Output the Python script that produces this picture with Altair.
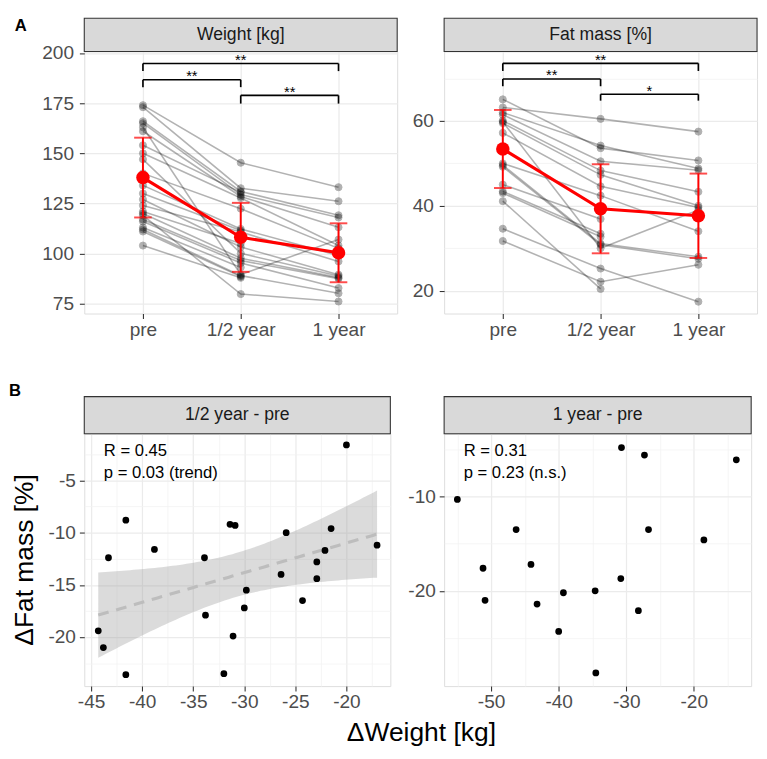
import json
import numpy as np
import pandas as pd
import altair as alt

FONT = "Liberation Sans"
GRID = "#EBEBEB"
GRID_MINOR = "#F2F2F2"
BORDER = "#333333"
STRIP_FILL = "#D9D9D9"
LABEL_COLOR = "#4D4D4D"
RED = "#FF0000"
TICK_FS = 19.5

# ---------------- data: panel A ----------------
time_labels = ["pre", "1/2 year", "1 year"]
time_pos = [1, 2, 3]

weight_pre = [174, 173, 166, 165, 163, 161, 154, 150, 147, 140, 134, 130, 127, 124, 121, 120, 119, 117, 116, 113, 112, 111, 104]
weight_half = [145.3, 132.6, 131.0, 129.4, 89.5, 128.5, 130.5, 127.7, 100.1, 122.4, 112.3, 111.5, 103.3, 110.7, 105.0, 97.7, 79.8, 96.5, 95.3, 93.1, 89.0, 88.5, 87.9]
weight_year = [133.1, 126.1, 119.1, 118.0, 107.0, 113.1, None, 104.0, 88.8, 102.6, 99.0, None, 89.5, 96.1, None, 88.0, 76.1, 87.5, 82.8, None, 80.2, None, None]
weight_mean = [137.9, 108.1, 100.4]
weight_sd = [19.9, 17.2, 14.7]

fat_pre = [65.1, 63.2, 62.0, 61.5, 60.1, 59.8, 59.5, 57.2, 50.0, 49.6, 49.2, 45.0, 43.4, 43.0, 41.1, 34.6, 31.7]
fat_half = [53.6, 60.5, 54.2, 50.5, 48.3, 30.0, 47.3, 44.6, 42.4, 31.1, 30.8, 36.9, 33.4, 32.7, 20.4, 25.2, 22.1]
fat_year = [50.7, 57.5, 48.8, 48.4, 43.3, 39.0, 40.0, 39.6, 34.0, 28.0, 27.5, None, None, None, None, 17.4, 26.1]
fat_mean = [53.4, 39.3, 37.65]
fat_sd = [9.2, 10.5, 9.95]

weight_ticks = [75, 100, 125, 150, 175, 200]
fat_ticks = [20, 40, 60]

weight_br_from = [1, 1, 2]
weight_br_to = [3, 2, 3]
weight_br_bar = [194.8, 186.7, 178.9]
weight_br_leg = [191.0, 183.0, 174.8]
weight_br_label = ["**", "**", "**"]

fat_br_from = [1, 1, 2]
fat_br_to = [3, 2, 3]
fat_br_bar = [73.6, 69.9, 66.3]
fat_br_leg = [71.8, 68.2, 64.8]
fat_br_label = ["**", "**", "*"]

# ---------------- data: panel B ----------------
half_d_weight = [-20.0, -41.6, -31.4, -30.9, -21.5, -25.9, -38.8, -22.1, -43.3, -33.9, -22.9, -26.4,
                 -22.9, -29.8, -24.3, -30.0, -33.8, -44.3, -31.1, -43.8, -41.6, -32.0, -17.0]
half_d_fat = [-1.6, -8.8, -9.2, -9.3, -9.6, -10.0, -11.6, -11.7, -12.4, -12.4, -12.8, -14.0,
              -14.4, -15.5, -16.5, -17.2, -17.9, -19.4, -19.9, -21.0, -23.6, -23.5, -11.2]
year_d_weight = [-30.7, -27.3, -13.7, -55.0, -46.3, -26.7, -18.5, -44.1, -51.2, -30.8, -34.6, -39.3,
                 -50.9, -43.2, -28.2, -40.0, -34.5]
year_d_fat = [-4.8, -5.6, -6.1, -10.3, -13.5, -13.5, -14.6, -17.2, -17.6, -18.7, -20.0, -20.2,
              -21.0, -21.4, -22.1, -24.3, -28.7]

d_weight_half_ticks = [-45, -40, -35, -30, -25, -20]
d_fat_half_ticks = [-20, -15, -10, -5]
d_weight_year_ticks = [-50, -40, -30, -20]
d_fat_year_ticks = [-20, -10]

half_stats = ["R = 0.45", "p = 0.03 (trend)"]
year_stats = ["R = 0.31", "p = 0.23 (n.s.)"]

y_title_b = "ΔFat mass [%]"
x_title_b = "ΔWeight [kg]"

# ---------------- layout ----------------
WA, HA, SA = 320, 268, 34
WB1, WB2, HB, SB = 313, 314, 258, 38


def grid_axis(major, domain, pad=6):
    step = major[1] - major[0]
    cands = [m + step / 2 for m in [major[0] - step] + major]
    minor = [v for v in cands if domain[0] <= v <= domain[1]]
    values = sorted(major + minor)
    q = f"((datum.value - ({major[0]})) / ({step}))"
    is_major = f"abs({q} - round({q})) < 0.001"
    return alt.Axis(
        values=values,
        labelExpr=f"({is_major}) ? ('' + datum.value) : ''",
        title=None,
        grid=True,
        gridColor={"condition": {"test": is_major, "value": GRID}, "value": GRID_MINOR},
        gridWidth={"condition": {"test": is_major, "value": 1.3}, "value": 0.8},
        tickOpacity={"condition": {"test": is_major, "value": 1}, "value": 0},
        domain=False,
        tickColor=BORDER,
        tickSize=5,
        tickWidth=1.1,
        labelColor=LABEL_COLOR,
        labelFontSize=TICK_FS,
        labelFont=FONT,
        labelPadding=pad,
        labelFlush=False,
        labelOverlap=False,
    )


def strip_layers(title, w, sh):
    sdf = pd.DataFrame({"label": [title]})
    rect = alt.Chart(sdf).mark_rect(fill=STRIP_FILL, stroke=BORDER, strokeWidth=1.1).encode(
        x=alt.value(0), x2=alt.value(w), y=alt.value(-sh), y2=alt.value(0))
    txt = alt.Chart(sdf).mark_text(font=FONT, fontSize=18, color="#1A1A1A", baseline="middle").encode(
        text="label:N", x=alt.value(w / 2), y=alt.value(-sh / 2))
    return [rect, txt]


def letter_layer(letter, dx, dy):
    ldf = pd.DataFrame({"label": [letter]})
    return alt.Chart(ldf).mark_text(font=FONT, fontSize=17, fontWeight="bold", color="black",
                                    align="left", baseline="middle").encode(
        text="label:N", x=alt.value(dx), y=alt.value(dy))


def top_panel(title, pre, half, year, mean, sd, ticks, domain, bfrom, bto, bbar, bleg, blab, letter=None):
    rows = []
    for i, vals in enumerate(zip(pre, half, year)):
        for t, v in zip(time_pos, vals):
            if v is not None:
                rows.append({"subject": i, "time": t, "value": v})
    df = pd.DataFrame(rows)
    mdf = pd.DataFrame({"time": time_pos, "mean": mean, "sd": sd})
    mdf["lo"] = mdf["mean"] - mdf["sd"]
    mdf["hi"] = mdf["mean"] + mdf["sd"]

    xscale = alt.Scale(domain=[0.4, 3.6], nice=False, zero=False)
    yscale = alt.Scale(domain=domain, nice=False, zero=False)
    xaxis = alt.Axis(values=time_pos, labelExpr=f"{json.dumps(time_labels)}[datum.value - 1]",
                     title=None, grid=True, gridColor=GRID, gridWidth=1.3, domain=False,
                     tickColor=BORDER, tickSize=5, tickWidth=1.1, labelColor=LABEL_COLOR,
                     labelFontSize=TICK_FS, labelFont=FONT, labelPadding=2, labelFlush=False)
    yaxis = grid_axis(ticks, domain)
    x = alt.X("time:Q", scale=xscale, axis=xaxis)
    y = alt.Y("value:Q", scale=yscale, axis=yaxis)

    base = alt.Chart(df)
    lines = base.mark_line(color="black", opacity=0.3, strokeWidth=1.6).encode(
        x=x, y=y, detail="subject:N")
    pts = base.mark_circle(size=52, color="black", opacity=0.3, stroke="black", strokeWidth=1).encode(x=x, y=y)

    mb = alt.Chart(mdf)
    xm = alt.X("time:Q", scale=xscale)
    err = mb.mark_rule(color=RED, strokeWidth=2).encode(x=xm, y=alt.Y("lo:Q", scale=yscale), y2="hi:Q")
    cap_lo = mb.mark_tick(color=RED, orient="horizontal", size=18, thickness=2).encode(
        x=xm, y=alt.Y("lo:Q", scale=yscale))
    cap_hi = mb.mark_tick(color=RED, orient="horizontal", size=18, thickness=2).encode(
        x=xm, y=alt.Y("hi:Q", scale=yscale))
    mline = mb.mark_line(color=RED, strokeWidth=3.2).encode(x=xm, y=alt.Y("mean:Q", scale=yscale))
    mpts = mb.mark_circle(color=RED, size=190, opacity=1).encode(x=xm, y=alt.Y("mean:Q", scale=yscale))

    seg = []
    for f, t, b, l in zip(bfrom, bto, bbar, bleg):
        seg.append({"x": f, "x2": t, "y": b, "y2": b})
        seg.append({"x": f, "x2": f, "y": b, "y2": l})
        seg.append({"x": t, "x2": t, "y": b, "y2": l})
    sdf = pd.DataFrame(seg)
    br = alt.Chart(sdf).mark_rule(color="black", strokeWidth=1.7).encode(
        x=alt.X("x:Q", scale=xscale), x2="x2:Q", y=alt.Y("y:Q", scale=yscale), y2="y2:Q")
    stars = pd.DataFrame({"x": [(f + t) / 2 for f, t in zip(bfrom, bto)], "y": bbar, "label": blab})
    st = alt.Chart(stars).mark_text(font=FONT, fontSize=15, color="black", baseline="alphabetic", dy=1.5).encode(
        x=alt.X("x:Q", scale=xscale), y=alt.Y("y:Q", scale=yscale), text="label:N")

    layers = strip_layers(title, WA, SA) + [lines, pts, err, cap_lo, cap_hi, mline, mpts, br, st]
    if letter:
        layers.append(letter_layer(letter, -71, -26))
    return alt.layer(*layers).properties(width=WA, height=HA)


def scatter_panel(title, xs, ys, xticks, yticks, xdom, ydom, stats, w, ytitle=None, letter=None, fit=False):
    df = pd.DataFrame({"dx": xs, "dy": ys})
    xscale = alt.Scale(domain=xdom, nice=False, zero=False)
    yscale = alt.Scale(domain=ydom, nice=False, zero=False)
    xaxis = grid_axis(xticks, xdom, pad=2)
    yaxis = grid_axis(yticks, ydom, pad=4)
    layers = strip_layers(title, w, SB)
    if fit:
        x = np.array(xs, dtype=float)
        y = np.array(ys, dtype=float)
        n = len(x)
        b, a = np.polyfit(x, y, 1)
        xg = np.linspace(x.min(), x.max(), 80)
        yh = a + b * xg
        s = np.sqrt(np.sum((y - (a + b * x)) ** 2) / (n - 2))
        sxx = np.sum((x - x.mean()) ** 2)
        tval = 2.0796
        se = s * np.sqrt(1.0 / n + (xg - x.mean()) ** 2 / sxx)
        fdf = pd.DataFrame({"x": xg, "fit": yh, "lo": yh - tval * se, "hi": yh + tval * se})
        band = alt.Chart(fdf).mark_area(color="#999999", opacity=0.35).encode(
            x=alt.X("x:Q", scale=xscale, axis=xaxis), y=alt.Y("lo:Q", scale=yscale, axis=yaxis), y2="hi:Q")
        fl = alt.Chart(fdf).mark_line(color="#BDBDBD", strokeWidth=3.2, strokeDash=[11, 8]).encode(
            x=alt.X("x:Q", scale=xscale, axis=xaxis), y=alt.Y("fit:Q", scale=yscale, axis=yaxis))
        layers += [band, fl]
    pts = alt.Chart(df).mark_circle(size=48, color="black", opacity=1).encode(
        x=alt.X("dx:Q", scale=xscale, axis=xaxis), y=alt.Y("dy:Q", scale=yscale, axis=yaxis))
    layers.append(pts)
    for k, line in enumerate(stats):
        layers.append(alt.Chart(pd.DataFrame({"label": [line]})).mark_text(
            font=FONT, fontSize=17, color="black", align="left", baseline="middle").encode(
            text="label:N", x=alt.value(20), y=alt.value(18 + 21.7 * k)))
    if ytitle:
        layers.append(alt.Chart(pd.DataFrame({"label": [ytitle]})).mark_text(
            font=FONT, fontSize=27, color="black", angle=270, align="center", baseline="middle").encode(
            text="label:N", x=alt.value(-60), y=alt.value(HB / 2)))
    if letter:
        layers.append(letter_layer(letter, -77, -44))
    return alt.layer(*layers).properties(width=w, height=HB)


A1 = top_panel("Weight [kg]", weight_pre, weight_half, weight_year, weight_mean, weight_sd,
               weight_ticks, [70.1, 200.8], weight_br_from, weight_br_to, weight_br_bar,
               weight_br_leg, weight_br_label, letter="A")
A2 = top_panel("Fat mass [%]", fat_pre, fat_half, fat_year, fat_mean, fat_sd,
               fat_ticks, [14.6, 76.4], fat_br_from, fat_br_to, fat_br_bar,
               fat_br_leg, fat_br_label)
B1 = scatter_panel("1/2 year - pre", half_d_weight, half_d_fat, d_weight_half_ticks, d_fat_half_ticks,
                   [-45.67, -15.7], [-24.69, -0.53], half_stats, WB1, ytitle=y_title_b,
                   letter="B", fit=True)
B2 = scatter_panel("1 year - pre", year_d_weight, year_d_fat, d_weight_year_ticks, d_fat_year_ticks,
                   [-56.96, -11.5], [-30.1, -3.34], year_stats, WB2)

rowA = alt.hconcat(A1, A2, spacing=12)
rowB = alt.hconcat(B1, B2, spacing=15)

chart = alt.vconcat(rowA, rowB, spacing=43).properties(
    padding={"left": 0, "top": 0, "right": 0, "bottom": 0},
    title=alt.TitleParams(text=x_title_b, orient="bottom", anchor="middle", dx=39,
                          font=FONT, fontSize=27, fontWeight="normal", color="black", offset=9),
).configure_view(stroke=BORDER, strokeWidth=1.1).configure(background="white")

chart.save("out.html", embed_options={"renderer": "svg", "actions": False})
